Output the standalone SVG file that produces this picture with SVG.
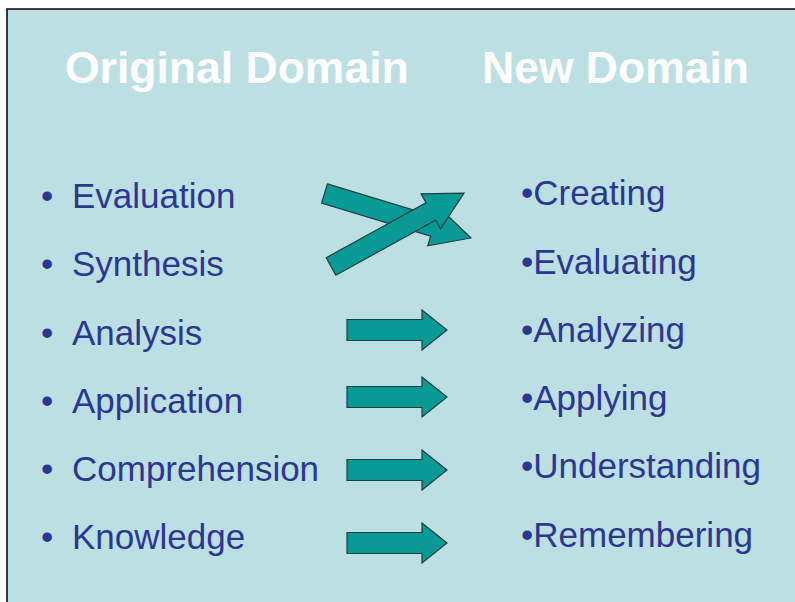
<svg xmlns="http://www.w3.org/2000/svg" width="795" height="602" viewBox="0 0 795 602">
<style>
.title{font-family:"Liberation Sans",Arial,sans-serif;font-weight:bold;font-size:44.5px;fill:#ffffff}
.item{font-family:"Liberation Sans",Arial,sans-serif;font-size:35px;fill:#2D3792}
.arrow{fill:#0A9A96;stroke:#1E3F40;stroke-width:1.2;stroke-linejoin:miter}
</style>
<defs>
<polygon id="straight" points="0,-10.5 75,-10.5 75,-20 100,0 75,20 75,10.5 0,10.5"/>
</defs>
<rect x="0" y="0" width="795" height="602" fill="#ffffff"/>
<rect x="7" y="9" width="800" height="600" fill="#BBDFE2" stroke="#000000" stroke-width="1.5"/>
<g id="titles">
<text class="title" x="65" y="83">Original Domain</text>
<text class="title" x="482" y="83">New Domain</text>
</g>
<g id="original-domain">
<g id="evaluation"><text class="item" x="41" y="208">•</text><text class="item" x="72" y="208">Evaluation</text></g>
<g id="synthesis"><text class="item" x="41" y="276">•</text><text class="item" x="72" y="276">Synthesis</text></g>
<g id="analysis"><text class="item" x="41" y="345">•</text><text class="item" x="72" y="345">Analysis</text></g>
<g id="application"><text class="item" x="41" y="413">•</text><text class="item" x="72" y="413">Application</text></g>
<g id="comprehension"><text class="item" x="41" y="481">•</text><text class="item" x="72" y="481">Comprehension</text></g>
<g id="knowledge"><text class="item" x="41" y="549">•</text><text class="item" x="72" y="549">Knowledge</text></g>
</g>
<g id="new-domain">
<g id="creating"><text class="item" x="521" y="205">•Creating</text></g>
<g id="evaluating"><text class="item" x="521" y="274">•Evaluating</text></g>
<g id="analyzing"><text class="item" x="521" y="342">•Analyzing</text></g>
<g id="applying"><text class="item" x="521" y="410">•Applying</text></g>
<g id="understanding"><text class="item" x="521" y="478">•Understanding</text></g>
<g id="remembering"><text class="item" x="521" y="547">•Remembering</text></g>
</g>
<g id="connectors">
<polygon class="arrow" transform="translate(324.5,193.5) rotate(16.9)" points="0,-10 114,-10 114,-20 153,0 114,20 114,10 0,10"/>
<polygon class="arrow" transform="translate(331,266.5) rotate(-28.9)" points="0,-10 114,-10 114,-20 152,0 114,20 114,10 0,10"/>
<use href="#straight" class="arrow" transform="translate(347,330)"/>
<use href="#straight" class="arrow" transform="translate(347,397)"/>
<use href="#straight" class="arrow" transform="translate(347,470)"/>
<use href="#straight" class="arrow" transform="translate(347,543)"/>
</g>
</svg>
